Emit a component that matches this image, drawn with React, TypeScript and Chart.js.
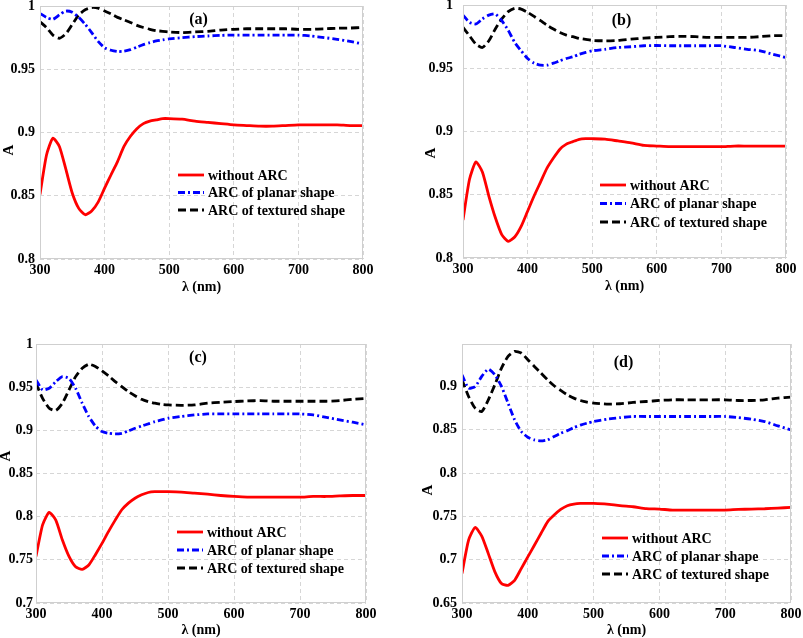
import React, { useEffect, useRef } from "react";
import { Chart, registerables } from "chart.js";

Chart.register(...registerables);

// ---------- data ----------
const wavelengths = [
  300, 310, 320, 330, 340, 350, 360, 370, 380, 390, 400, 410, 420, 430, 440, 450, 460, 470, 480, 490, 500,
  520, 540, 560, 580, 600, 620, 640, 660, 680, 700, 720, 740, 760, 780, 800,
];

const seriesNames = ["without ARC", "ARC of planar shape", "ARC of textured shape"];
const panelLabels = ["(a)", "(b)", "(c)", "(d)"];
const xTitle = "λ (nm)";
const yTitle = "A";
const yMins = [0.8, 0.8, 0.7, 0.65];
const yMaxs = [1, 1, 1, 0.949];

// (a)
const aWithout = [
  0.851, 0.882, 0.8955, 0.889, 0.871, 0.852, 0.84, 0.835, 0.838, 0.845, 0.856, 0.8666, 0.877, 0.889, 0.897, 0.903, 0.907, 0.909, 0.91, 0.911, 0.911,
  0.9105, 0.909, 0.908, 0.907, 0.906, 0.9055, 0.905, 0.905, 0.9055, 0.906, 0.906, 0.906, 0.906, 0.9055, 0.9055,
];
const aPlanar = [
  0.9942, 0.991, 0.9895, 0.993, 0.996, 0.995, 0.991, 0.9855, 0.979, 0.972, 0.967, 0.965, 0.964, 0.9643, 0.9655, 0.9675, 0.9695, 0.971, 0.9724, 0.9732, 0.974,
  0.975, 0.9758, 0.9763, 0.9768, 0.977, 0.977, 0.977, 0.977, 0.977, 0.977, 0.9763, 0.975, 0.9737, 0.972, 0.97,
];
const aTextured = [
  0.9876, 0.983, 0.977, 0.9745, 0.978, 0.9855, 0.993, 0.997, 0.9988, 0.9983, 0.996, 0.9937, 0.991, 0.989, 0.987, 0.9847, 0.983, 0.9816, 0.9805, 0.98, 0.9795,
  0.979, 0.9795, 0.98, 0.981, 0.9816, 0.982, 0.982, 0.982, 0.982, 0.9816, 0.9816, 0.982, 0.9824, 0.9826, 0.983,
];

// (b)
const bWithout = [
  0.83, 0.862, 0.876, 0.868, 0.849, 0.832, 0.8185, 0.8132, 0.8166, 0.825, 0.837, 0.849, 0.86, 0.871, 0.879, 0.886, 0.89, 0.892, 0.8938, 0.8943, 0.8943,
  0.894, 0.8925, 0.891, 0.889, 0.8885, 0.888, 0.888, 0.888, 0.888, 0.888, 0.8885, 0.8885, 0.8885, 0.8885, 0.8885,
];
const bPlanar = [
  0.992, 0.9863, 0.985, 0.989, 0.992, 0.9929, 0.9876, 0.98, 0.9704, 0.9638, 0.9577, 0.954, 0.9524, 0.9524, 0.954, 0.9559, 0.9577, 0.959, 0.961, 0.9625, 0.9638,
  0.965, 0.9664, 0.967, 0.9678, 0.968, 0.9678, 0.9678, 0.9678, 0.9678, 0.9678, 0.9664, 0.965, 0.9638, 0.961, 0.9585,
];
const bTextured = [
  0.9823, 0.9757, 0.969, 0.9664, 0.9717, 0.981, 0.989, 0.9947, 0.9974, 0.9968, 0.9942, 0.991, 0.9876, 0.984, 0.981, 0.9783, 0.9762, 0.975, 0.9736, 0.9728, 0.972,
  0.9717, 0.972, 0.973, 0.9738, 0.9744, 0.975, 0.9752, 0.975, 0.9744, 0.9744, 0.9744, 0.9744, 0.975, 0.9757, 0.9757,
];

// (c)
const cWithout = [
  0.754, 0.7906, 0.805, 0.796, 0.773, 0.754, 0.742, 0.739, 0.744, 0.756, 0.769, 0.783, 0.796, 0.808, 0.8157, 0.8214, 0.8253, 0.828, 0.829, 0.829, 0.829,
  0.8285, 0.8272, 0.826, 0.8245, 0.8234, 0.8226, 0.8226, 0.8226, 0.8226, 0.8226, 0.8234, 0.8234, 0.824, 0.8245, 0.8245,
];
const cPlanar = [
  0.9584, 0.9468, 0.9487, 0.9564, 0.9622, 0.96, 0.9487, 0.9314, 0.916, 0.905, 0.8986, 0.8966, 0.8959, 0.8966, 0.8993, 0.9024, 0.905, 0.9074, 0.91, 0.912, 0.914,
  0.916, 0.9178, 0.919, 0.919, 0.919, 0.919, 0.919, 0.919, 0.919, 0.919, 0.9178, 0.915, 0.912, 0.9094, 0.9063,
];
const cTextured = [
  0.9545, 0.937, 0.9256, 0.923, 0.9314, 0.9468, 0.9622, 0.9718, 0.9765, 0.974, 0.9688, 0.963, 0.9564, 0.9506, 0.9448, 0.94, 0.936, 0.9333, 0.9314, 0.93, 0.9294,
  0.929, 0.9294, 0.9314, 0.9325, 0.9333, 0.934, 0.9344, 0.9337, 0.9337, 0.9337, 0.9337, 0.9337, 0.9344, 0.936, 0.937,
];

// (d)
const dWithout = [
  0.684, 0.7225, 0.7372, 0.7272, 0.707, 0.6859, 0.6724, 0.6704, 0.6762, 0.6897, 0.7032, 0.7167, 0.7302, 0.7437, 0.7515, 0.758, 0.7623, 0.7642, 0.765, 0.765, 0.765,
  0.7642, 0.7623, 0.7611, 0.759, 0.7584, 0.7573, 0.7573, 0.7573, 0.7573, 0.7573, 0.758, 0.7584, 0.7588, 0.7596, 0.7603,
];
const dPlanar = [
  0.9135, 0.898, 0.9, 0.9116, 0.92, 0.9135, 0.9, 0.8807, 0.8614, 0.848, 0.8414, 0.8383, 0.8371, 0.8383, 0.8421, 0.846, 0.849, 0.8525, 0.8553, 0.8576, 0.8595,
  0.8622, 0.864, 0.8653, 0.8653, 0.8653, 0.8653, 0.8653, 0.8653, 0.8653, 0.8653, 0.864, 0.8622, 0.8595, 0.8545, 0.8498,
];
const dTextured = [
  0.9077, 0.8884, 0.8749, 0.871, 0.8846, 0.902, 0.9212, 0.9347, 0.9405, 0.9386, 0.9309, 0.9231, 0.9154, 0.9077, 0.9008, 0.8954, 0.8904, 0.8865, 0.8838, 0.8819, 0.8807,
  0.8796, 0.88, 0.8815, 0.8826, 0.8838, 0.8846, 0.8846, 0.8846, 0.8846, 0.8846, 0.8838, 0.8838, 0.8846, 0.8865, 0.8877, 0.8884,
];

const panelSeries = [
  [aWithout, aPlanar, aTextured],
  [bWithout, bPlanar, bTextured],
  [cWithout, cPlanar, cTextured],
  [dWithout, dPlanar, dTextured],
];

// ---------- styles / layout ----------
const FONT = '"Liberation Serif", "Times New Roman", serif';
const seriesStyles = [
  { color: "#ff0000", dash: [] as number[] },
  { color: "#0000ff", dash: [7, 3, 2, 3] },
  { color: "#000000", dash: [8, 4] },
];

const layouts = [
  { left: 0, top: 0, width: 400, height: 319, pad: { left: 2, top: 6, right: 37, bottom: 25 }, yWidth: 38, xHeight: 35, yTickPad: 5, lg: { dx: 138, dy: 169, gap: 17.5 }, labelDy: 14, yt: { dx: -31, dy: 144 } },
  { left: 400, top: 0, width: 403, height: 319, pad: { left: 24, top: 5, right: 17, bottom: 26 }, yWidth: 39, xHeight: 35, yTickPad: 10, lg: { dx: 137, dy: 180, gap: 18.5 }, labelDy: 16, yt: { dx: -32, dy: 148 } },
  { left: 0, top: 319, width: 400, height: 319, pad: { left: 0, top: 25, right: 34, bottom: 1 }, yWidth: 36, xHeight: 34, yTickPad: 3, lg: { dx: 141, dy: 188, gap: 18 }, labelDy: 14, yt: { dx: -30, dy: 112 } },
  { left: 400, top: 319, width: 403, height: 319, pad: { left: 21, top: 25, right: 12, bottom: 1 }, yWidth: 41, xHeight: 34, yTickPad: 5, lg: { dx: 140, dy: 194, gap: 18 }, labelDy: 19, yt: { dx: -34, dy: 146 } },
];

const framePlugin = {
  id: "frameLegend",
  afterDraw(chart: any, _args: any, opts: any) {
    const { ctx, chartArea } = chart;
    const { left, top, right, bottom } = chartArea;
    ctx.save();
    // box
    ctx.strokeStyle = "#cfcfcf";
    ctx.lineWidth = 1;
    ctx.setLineDash([]);
    ctx.strokeRect(Math.round(left) + 0.5, Math.round(top) + 0.5, Math.round(right - left) - 1, Math.round(bottom - top) - 1);
    // panel label
    ctx.fillStyle = "#000";
    ctx.font = `bold 16px ${FONT}`;
    ctx.textAlign = "center";
    ctx.textBaseline = "middle";
    ctx.fillText(opts.label, (left + right) / 2 - 3, top + opts.labelDy);
    // y axis title (rotated)
    ctx.save();
    ctx.translate(left + opts.yt.dx, top + opts.yt.dy);
    ctx.rotate(-Math.PI / 2);
    ctx.font = `bold 15px ${FONT}`;
    ctx.fillText(opts.yTitle, 0, 0);
    ctx.restore();
    // legend
    ctx.font = `bold 14px ${FONT}`;
    ctx.textAlign = "left";
    chart.data.datasets.forEach((d: any, i: number) => {
      const y = top + opts.lg.dy + i * opts.lg.gap;
      const x0 = left + opts.lg.dx;
      ctx.beginPath();
      ctx.setLineDash(d.borderDash || []);
      ctx.strokeStyle = d.borderColor;
      ctx.lineWidth = d.borderWidth;
      ctx.moveTo(x0, y);
      ctx.lineTo(x0 + 26, y);
      ctx.stroke();
      ctx.setLineDash([]);
      ctx.fillStyle = "#000";
      ctx.fillText(d.label, x0 + 30, y + 1);
    });
    ctx.restore();
  },
};

function Panel({ index }: { index: number }) {
  const ref = useRef<HTMLCanvasElement>(null);
  const lay = layouts[index];
  useEffect(() => {
    const canvas = ref.current!;
    const series = panelSeries[index];
    const chart = new Chart(canvas, {
      type: "line",
      data: {
        datasets: series.map((vals, si) => ({
          label: seriesNames[si],
          data: wavelengths.map((x, i) => ({ x, y: vals[i] })),
          borderColor: seriesStyles[si].color,
          backgroundColor: seriesStyles[si].color,
          borderDash: seriesStyles[si].dash,
          borderWidth: 2.8,
          pointRadius: 0,
          tension: 0.2,
          fill: false,
        })),
      },
      options: {
        responsive: false,
        animation: false,
        devicePixelRatio: 1,
        layout: { padding: lay.pad },
        plugins: {
          legend: { display: false },
          tooltip: { enabled: false },
          frameLegend: { label: panelLabels[index], lg: lay.lg, labelDy: lay.labelDy, yt: lay.yt, yTitle },
        } as any,
        scales: {
          x: {
            type: "linear",
            min: 300,
            max: 800,
            ticks: {
              stepSize: 100,
              color: "#000",
              padding: 3,
              font: { family: FONT, size: 14, weight: "bold" },
              maxRotation: 0,
            },
            grid: { color: "#d6d6d6", drawTicks: false, lineWidth: 1 },
            border: { display: false, dash: [4, 3] },
            title: {
              display: true,
              text: xTitle,
              color: "#000",
              padding: { top: 0, bottom: 0 },
              font: { family: FONT, size: 14, weight: "bold", lineHeight: 1 },
            },
            afterFit: (s: any) => {
              s.height = lay.xHeight;
              s.paddingLeft = 0;
              s.paddingRight = 0;
            },
          },
          y: {
            type: "linear",
            min: yMins[index],
            max: yMaxs[index],
            ticks: {
              stepSize: 0.05,
              includeBounds: false,
              color: "#000",
              padding: lay.yTickPad,
              font: { family: FONT, size: 14, weight: "bold" },
              callback: (v: any) => String(+Number(v).toFixed(2)),
            },
            grid: { color: "#d6d6d6", drawTicks: false, lineWidth: 1 },
            border: { display: false, dash: [4, 3] },
            title: { display: false, text: yTitle },
            afterFit: (s: any) => {
              s.width = lay.yWidth;
              s.paddingTop = 0;
              s.paddingBottom = 0;
            },
          },
        },
      },
      plugins: [framePlugin],
    } as any);
    return () => chart.destroy();
  }, [index]);
  return (
    <div style={{ position: "absolute", left: lay.left, top: lay.top, width: lay.width, height: lay.height }}>
      <canvas ref={ref} width={lay.width} height={lay.height} style={{ display: "block" }} />
    </div>
  );
}

export default function App() {
  return (
    <div style={{ position: "absolute", left: 0, top: 0, width: 803, height: 638, background: "#fff", overflow: "hidden" }}>
      {[0, 1, 2, 3].map((i) => (
        <Panel key={i} index={i} />
      ))}
    </div>
  );
}
